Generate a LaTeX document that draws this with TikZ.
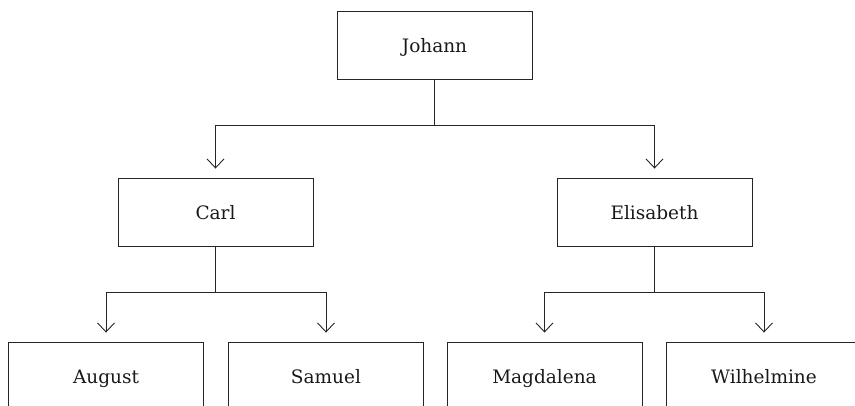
\documentclass[tikz,border=0pt]{standalone}
\usepackage{fontspec}
\setmainfont{DejaVu Serif}
\usetikzlibrary{arrows.meta}
\begin{document}
\begin{tikzpicture}[x=1pt,y=-1pt,
  person/.style={draw=black!85, line width=0.9pt, rectangle, minimum width=195pt,
    minimum height=68pt, inner sep=0pt, text height=15pt, text depth=0pt,
    font=\fontsize{18.5}{22}\selectfont, text=black!90},
  link/.style={draw=black!85, line width=0.9pt,
    -{Straight Barb[length=9pt,width=17pt,line width=0.9pt]}, shorten >=9pt}]
\clip (0,0) rectangle (855,405);
% family members
\node[person] (johann)     at (434.5,45)  {Johann};
\node[person] (carl)       at (215.5,212) {Carl};
\node[person] (elisabeth)  at (654.5,212) {Elisabeth};
\node[person] (august)     at (106,376)   {August};
\node[person] (samuel)     at (326,376)   {Samuel};
\node[person] (magdalena)  at (544.5,376) {Magdalena};
\node[person] (wilhelmine) at (764,376)   {Wilhelmine};
% parent-child connectors
\draw[link] (johann.south) -- ++(0,46) -| (carl.north);
\draw[link] (johann.south) -- ++(0,46) -| (elisabeth.north);
\draw[link] (carl.south) -- ++(0,46) -| (august.north);
\draw[link] (carl.south) -- ++(0,46) -| (samuel.north);
\draw[link] (elisabeth.south) -- ++(0,46) -| (magdalena.north);
\draw[link] (elisabeth.south) -- ++(0,46) -| (wilhelmine.north);
\end{tikzpicture}
\end{document}
